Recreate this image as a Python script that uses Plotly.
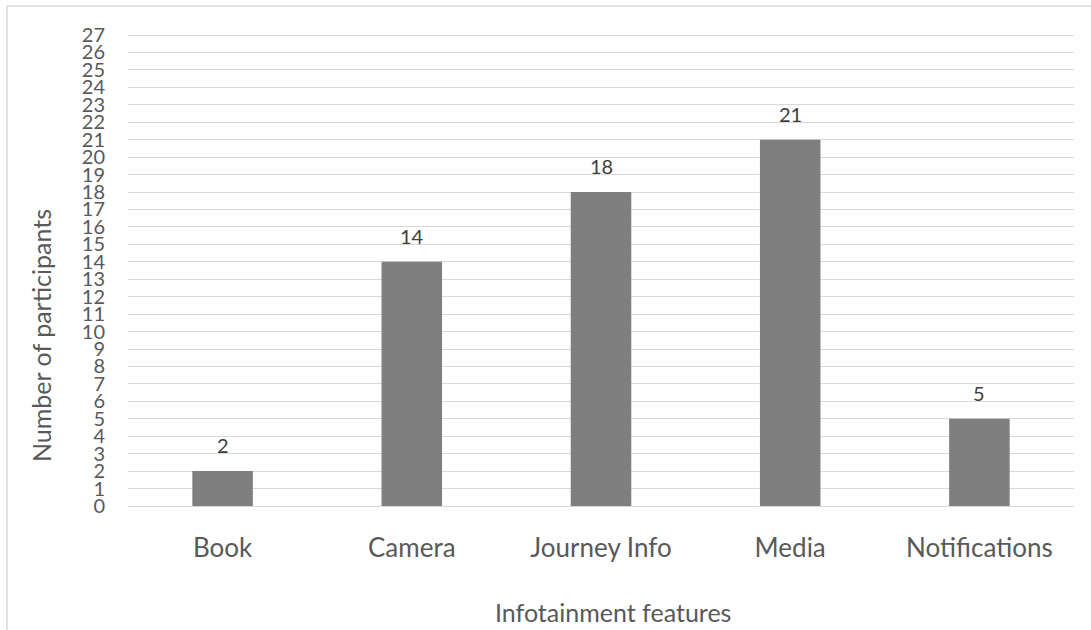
import plotly.graph_objects as go

# Survey results: preferred infotainment features
features = ["Book", "Camera", "Journey Info", "Media", "Notifications"]
participants = [2, 14, 18, 21, 5]
y_ticks = list(range(0, 28))

W, H = 1091, 630
L, R, T, B = 128, 17, 32, 124
pw = W - L - R
ph = H - T - B

FONT = "Lato"
GRID = "#d9d9d9"

fig = go.Figure(
    go.Bar(
        x=features,
        y=participants,
        marker=dict(color="#7f7f7f", line=dict(width=0)),
        hoverinfo="x+y",
    )
)

# value labels above each bar
for f, v in zip(features, participants):
    fig.add_annotation(
        x=f, y=v, text=str(v), showarrow=False,
        yanchor="bottom", yshift=12,
        font=dict(family=FONT, size=20, color="#404040"),
    )

# axis titles
fig.add_annotation(
    xref="paper", yref="paper",
    x=(613 - L) / pw, y=(H - B - 612) / ph,
    text="Infotainment features", showarrow=False,
    xanchor="center", yanchor="middle",
    font=dict(family=FONT, size=25, color="#595959"),
)
fig.add_annotation(
    xref="paper", yref="paper",
    x=(41 - L) / pw, y=(H - B - 336) / ph,
    text="Number of participants", showarrow=False, textangle=-90,
    xanchor="center", yanchor="middle",
    font=dict(family=FONT, size=25, color="#595959"),
)

# chart frame
fig.add_shape(
    type="rect", xref="paper", yref="paper",
    x0=(7 - L) / pw, x1=(W + 5 - L) / pw,
    y0=(H - B - (H + 5)) / ph, y1=(H - B - 6) / ph,
    line=dict(color=GRID, width=1.5), fillcolor="rgba(0,0,0,0)",
    layer="below",
)

fig.update_layout(
    width=W, height=H,
    margin=dict(l=L, r=R, t=T, b=B, autoexpand=False),
    paper_bgcolor="white", plot_bgcolor="white",
    bargap=0.68,
    showlegend=False,
    font=dict(family=FONT, color="#595959"),
    xaxis=dict(
        type="category",
        showgrid=False, showline=False, zeroline=False,
        ticks="", ticklabelstandoff=24,
        tickfont=dict(family=FONT, size=26, color="#595959"),
    ),
    yaxis=dict(
        range=[0, 27.172],
        tickvals=y_ticks, ticktext=[str(t) for t in y_ticks],
        showgrid=True, gridcolor=GRID, gridwidth=1,
        zeroline=True, zerolinecolor=GRID, zerolinewidth=1,
        showline=False, ticks="", ticklabelstandoff=22,
        tickfont=dict(family=FONT, size=20, color="#595959"),
    ),
)

fig.write_html("out.html")
